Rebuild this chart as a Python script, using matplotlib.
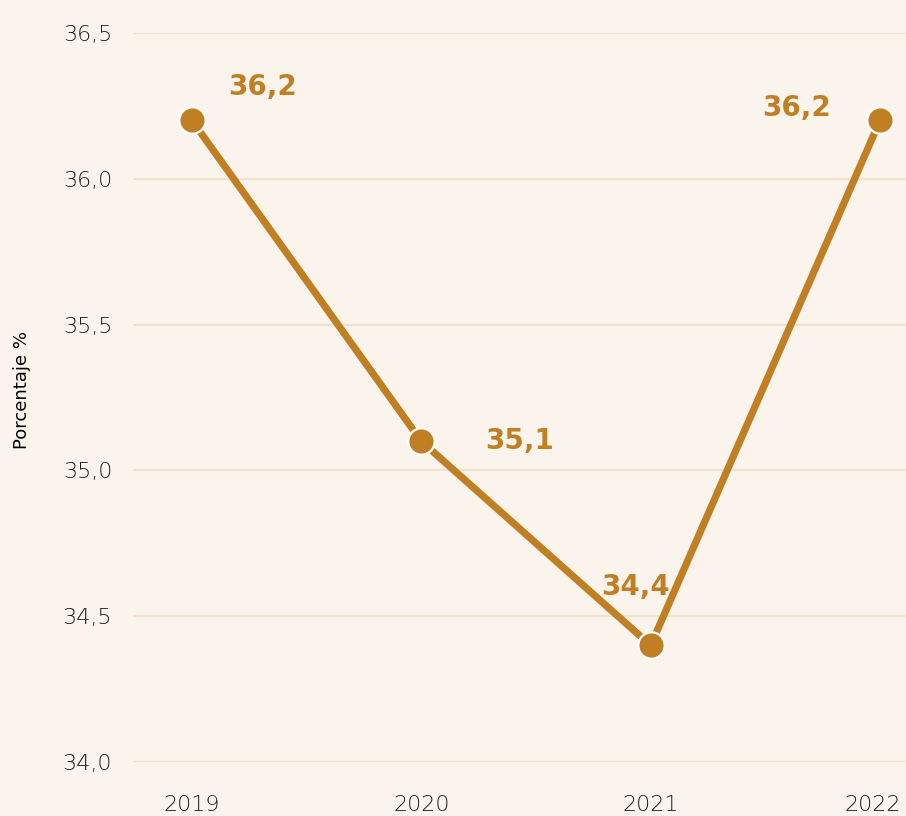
import matplotlib
matplotlib.use("Agg")
import matplotlib.pyplot as plt
import matplotlib.transforms as mtransforms

years = [2019, 2020, 2021, 2022]
values = [36.2, 35.1, 34.4, 36.2]
y_ticks = [34.0, 34.5, 35.0, 35.5, 36.0, 36.5]
y_label = "Porcentaje %"

# label offsets in points (dx, dy) relative to each marker
label_offsets = [(51, 24), (71, 0), (-11, 42), (-60, 9)]

bg = "#faf4ec"
line_color = "#c17f24"
grid_color = "#f0e2cc"
text_color = "#1e1e1e"

fig = plt.figure(figsize=(9.06, 8.16), dpi=100, facecolor=bg)
ax = fig.add_axes([133 / 906, 54 / 816, 773 / 906, 729 / 816], facecolor=bg)

ax.plot(years, values, color=line_color, lw=5.2, zorder=3,
        marker="o", markersize=19, markerfacecolor=line_color,
        markeredgecolor="white", markeredgewidth=1.6, clip_on=False,
        solid_capstyle="butt")

for x, v, (dx, dy) in zip(years, values, label_offsets):
    ax.annotate(f"{v:.1f}".replace(".", ","), (x, v), xytext=(dx, dy),
                textcoords="offset points", ha="center", va="center",
                fontsize=20, fontweight="heavy", color=line_color, zorder=4)

ax.set_xlim(2018.743, 2022.113)
ax.set_ylim(34.0, 36.5)
ax.set_yticks(y_ticks)
ax.set_yticklabels([f"{t:.1f}".replace(".", ",") for t in y_ticks],
                   fontsize=16, color=text_color, fontweight="light")
ax.set_xticks(years)
ax.set_xticklabels([str(y) for y in years], fontsize=16, color=text_color,
                   fontweight="light")
ax.tick_params(axis="both", length=0)
ax.tick_params(axis="y", pad=15)
ax.tick_params(axis="x", pad=24)
ax.grid(axis="y", color=grid_color, lw=1.6)
ax.set_axisbelow(True)
for s in ax.spines.values():
    s.set_visible(False)

# keep the last year label inside the right edge
last = ax.get_xticklabels()[-1]
last.set_transform(last.get_transform() +
                   mtransforms.ScaledTranslation(-5 / 72, 0, fig.dpi_scale_trans))

fig.text(22 / 906, 1 - 390 / 816, y_label, rotation=90, ha="center",
         va="center", fontsize=13, color="black")

fig.savefig("out.png", dpi=100, facecolor=bg)
